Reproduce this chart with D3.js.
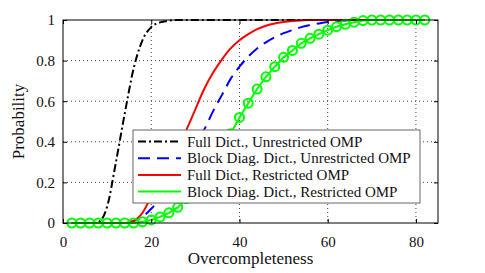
<!DOCTYPE html>
<html>
<head>
<meta charset="utf-8">
<script src="https://cdn.jsdelivr.net/npm/d3@7"></script>
<style>
  body { margin: 0; background: #fff; font-family: 'Liberation Serif', serif; }
  #chart, #chart text { font-family: 'Liberation Serif', serif !important; }
</style>
</head>
<body>
<svg id="chart" width="485" height="273"></svg>
<script>
// overcompleteness values (shared by every curve)
var xs = d3.range(2, 84, 2);

var fullUnres = [0, 0, 0, 0.005, 0.08, 0.30, 0.54, 0.76, 0.90, 0.965, 0.988, 0.997, 1,
  1, 1, 1, 1, 1, 1, 1, 1, 1, 1, 1, 1, 1, 1, 1, 1, 1, 1, 1, 1, 1, 1, 1, 1, 1, 1, 1, 1];
var blockUnres = [0, 0, 0, 0, 0, 0, 0, 0.01, 0.03, 0.07, 0.12, 0.18, 0.25, 0.32, 0.39,
  0.46, 0.55, 0.63, 0.71, 0.77, 0.82, 0.86, 0.89, 0.915, 0.935, 0.95, 0.965, 0.975,
  0.983, 0.99, 0.995, 0.998, 1, 1, 1, 1, 1, 1, 1, 1, 1];
var fullRes = [0, 0, 0, 0, 0, 0, 0, 0.01, 0.05, 0.13, 0.21, 0.29, 0.37, 0.46, 0.56,
  0.66, 0.74, 0.805, 0.86, 0.90, 0.93, 0.955, 0.972, 0.983, 0.99, 0.995, 0.998, 1,
  1, 1, 1, 1, 1, 1, 1, 1, 1, 1, 1, 1, 1];
var blockRes = [0, 0, 0, 0, 0, 0, 0, 0, 0.006, 0.015, 0.03, 0.05, 0.077, 0.12, 0.17,
  0.22, 0.29, 0.36, 0.44, 0.52, 0.59, 0.66, 0.72, 0.77, 0.816, 0.85, 0.885, 0.91,
  0.93, 0.95, 0.967, 0.979, 0.989, 0.997, 1, 1, 1, 1, 1, 1, 1];

var seriesNames = ['Full Dict., Unrestricted OMP', 'Block Diag. Dict., Unrestricted OMP',
  'Full Dict., Restricted OMP', 'Block Diag. Dict., Restricted OMP'];
var xTicks = [0, 20, 40, 60, 80];
var yTicks = [0, 0.2, 0.4, 0.6, 0.8, 1];

var FONT = "'Liberation Serif', serif";

var margin = {left: 63, top: 20, right: 47, bottom: 50};
var width = 485 - margin.left - margin.right,
    height = 273 - margin.top - margin.bottom;

var svg = d3.select('#chart');
var g = svg.append('g').attr('transform', 'translate(' + margin.left + ',' + margin.top + ')');

var x = d3.scaleLinear().domain([0, 85]).range([0, width]);
var y = d3.scaleLinear().domain([0, 1]).range([height, 0]);

// dotted grid
g.append('g').selectAll('line').data(xTicks.filter(function(d) { return d > 0; }))
  .enter().append('line')
  .attr('x1', function(d) { return x(d); }).attr('x2', function(d) { return x(d); })
  .attr('y1', 0).attr('y2', height)
  .attr('stroke', '#444').attr('stroke-width', 1).attr('stroke-dasharray', '1,3');
g.append('g').selectAll('line').data(yTicks.filter(function(d) { return d > 0 && d < 1; }))
  .enter().append('line')
  .attr('y1', function(d) { return y(d); }).attr('y2', function(d) { return y(d); })
  .attr('x1', 0).attr('x2', width)
  .attr('stroke', '#444').attr('stroke-width', 1).attr('stroke-dasharray', '1,3');

var series = [
  {name: seriesNames[0], values: fullUnres, color: '#000', dash: '8,3,2,3', curve: d3.curveMonotoneX},
  {name: seriesNames[1], values: blockUnres, color: '#0000ff', dash: '12,7', curve: d3.curveMonotoneX},
  {name: seriesNames[2], values: fullRes, color: '#ff0000', dash: null, curve: d3.curveMonotoneX},
  {name: seriesNames[3], values: blockRes, color: '#00ff00', dash: null, curve: d3.curveLinear, marker: true}
];

var plot = g.append('g');
series.forEach(function(s) {
  var line = d3.line()
    .x(function(d, i) { return x(xs[i]); })
    .y(function(d) { return y(d); })
    .curve(s.curve);
  plot.append('path')
    .attr('d', line(s.values))
    .attr('fill', 'none')
    .attr('stroke', s.color)
    .attr('stroke-width', 2)
    .attr('stroke-dasharray', s.dash);
  if (s.marker) {
    plot.selectAll('.mk').data(s.values).enter().append('circle')
      .attr('class', 'mk')
      .attr('cx', function(d, i) { return x(xs[i]); })
      .attr('cy', function(d) { return y(d); })
      .attr('r', 4.5)
      .attr('fill', 'none')
      .attr('stroke', s.color)
      .attr('stroke-width', 2);
  }
});

// box
g.append('rect').attr('width', width).attr('height', height)
  .attr('fill', 'none').attr('stroke', '#000').attr('stroke-width', 1);

// axes with inward ticks
var xAxis = g.append('g').attr('transform', 'translate(0,' + height + ')')
  .call(d3.axisBottom(x).tickValues(xTicks).tickSize(-4).tickPadding(13).tickFormat(d3.format('d')));
var yAxis = g.append('g')
  .call(d3.axisLeft(y).tickValues(yTicks).tickSize(-4).tickPadding(8).tickFormat(function(d) { return d === 0 || d === 1 ? d : d3.format('.1f')(d); }));
g.append('g').attr('transform', 'translate(' + width + ',0)')
  .call(d3.axisRight(y).tickValues(yTicks).tickSize(-4).tickFormat(''));
g.append('g')
  .call(d3.axisTop(x).tickValues(xTicks).tickSize(-4).tickFormat(''));
g.selectAll('.domain').remove();
g.selectAll('.tick line').attr('stroke', '#000');
[xAxis, yAxis].forEach(function(a) {
  a.attr('font-family', null).attr('font-size', null);
  a.selectAll('text').attr('fill', '#111').style('font-family', FONT).style('font-size', '15px');
});

// axis titles
svg.append('text').attr('x', margin.left + width / 2).attr('y', 264)
  .attr('text-anchor', 'middle').style('font-family', FONT).style('font-size', '17px')
  .attr('fill', '#111').text('Overcompleteness');
svg.append('text').attr('transform', 'translate(24,' + (margin.top + height / 2) + ') rotate(-90)')
  .attr('text-anchor', 'middle').style('font-family', FONT).style('font-size', '17px')
  .attr('fill', '#111').text('Probability');

// legend
var legend = svg.append('g').attr('transform', 'translate(133,130)');
legend.append('rect').attr('width', 287).attr('height', 73)
  .attr('fill', '#fff').attr('stroke', '#666').attr('stroke-width', 1);
var rows = legend.selectAll('.row').data(series).enter().append('g')
  .attr('class', 'row')
  .attr('transform', function(d, i) { return 'translate(0,' + (11.5 + i * 16.7) + ')'; });
rows.append('line').attr('x1', 5).attr('x2', 48).attr('y1', 0).attr('y2', 0)
  .attr('stroke', function(d) { return d.color; }).attr('stroke-width', 2)
  .attr('stroke-dasharray', function(d) { return d.dash; });
rows.append('text').attr('x', 54).attr('y', 5)
  .style('font-family', FONT).style('font-size', '15px').attr('fill', '#111')
  .text(function(d) { return d.name; });
</script>
</body>
</html>
